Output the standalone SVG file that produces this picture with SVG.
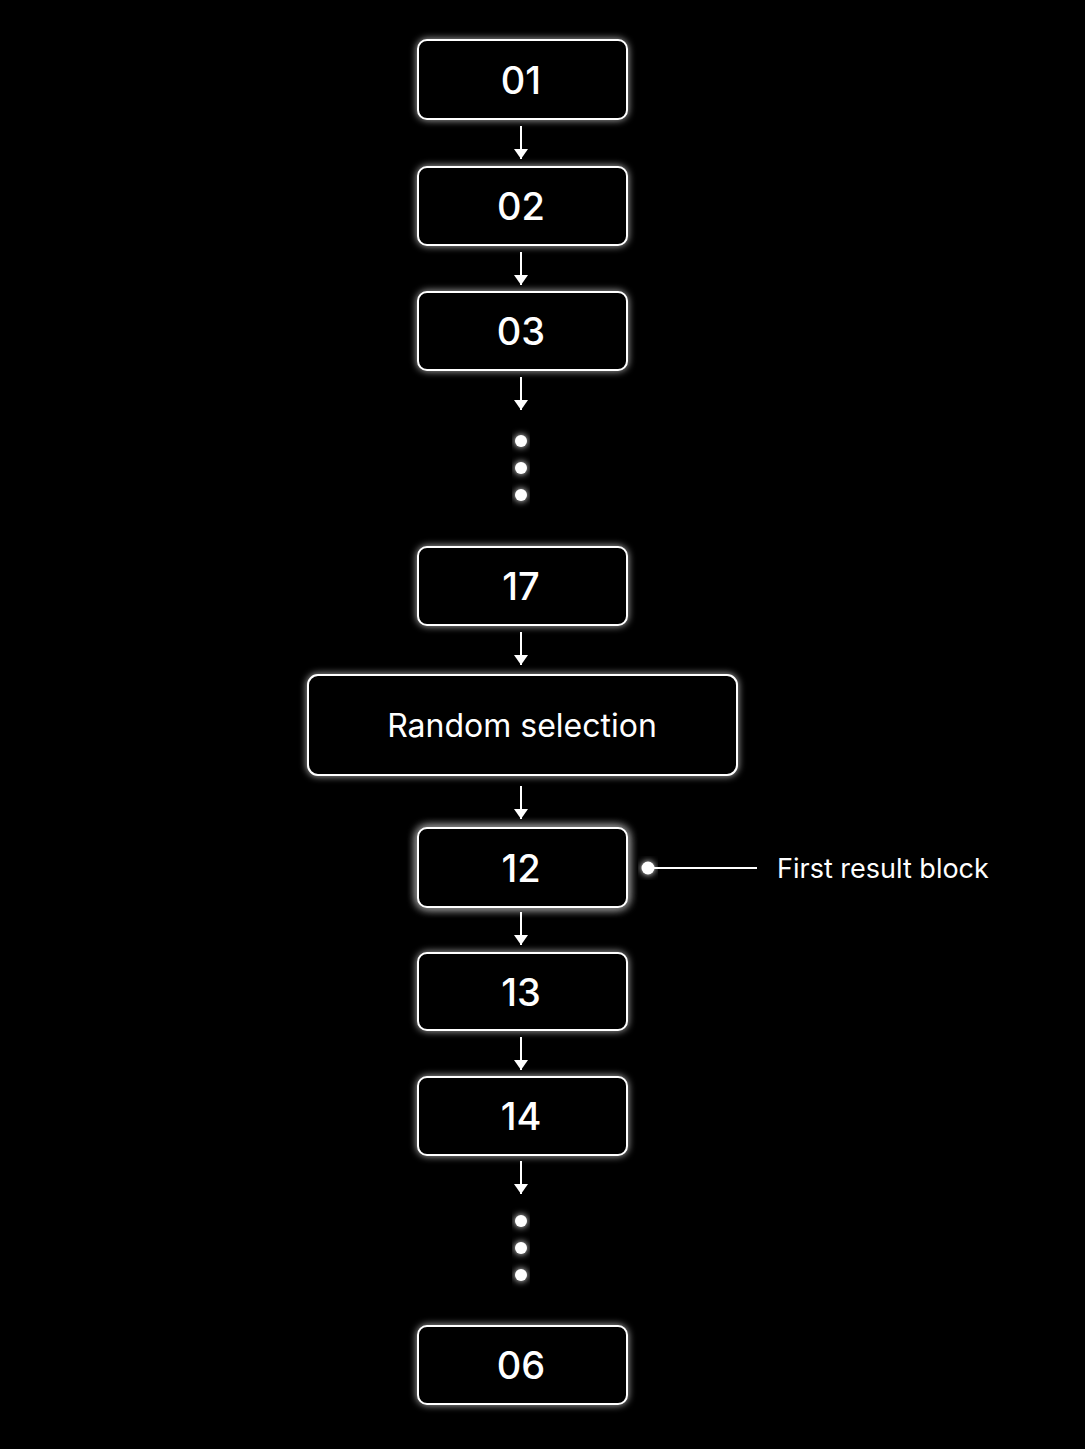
<svg xmlns="http://www.w3.org/2000/svg" width="1085" height="1449" viewBox="0 0 1085 1449">
<defs>
<filter id="glow" x="-20%" y="-40%" width="140%" height="180%">
<feGaussianBlur in="SourceGraphic" stdDeviation="3.5" result="b"/>
<feMerge><feMergeNode in="b"/><feMergeNode in="SourceGraphic"/></feMerge>
</filter>
<filter id="glow2" x="-30%" y="-50%" width="160%" height="200%">
<feGaussianBlur in="SourceGraphic" stdDeviation="5" result="b"/>
<feMerge><feMergeNode in="b"/><feMergeNode in="b"/><feMergeNode in="SourceGraphic"/></feMerge>
</filter>
<marker id="ah" viewBox="0 0 10 14" refX="10" refY="7" markerWidth="10" markerHeight="14" markerUnits="userSpaceOnUse" orient="auto">
<path d="M0,0 L10,7 L0,14 Z" fill="#fff"/>
</marker>
<style>
.box{fill:#000;stroke:#fff;stroke-width:2;filter:url(#glow)}
.hl{filter:url(#glow2)}
.num{fill:#fff;font-family:Inter,"Liberation Sans",sans-serif;font-size:38px;font-weight:500;text-anchor:middle}
.lbl{fill:#fff;font-family:Inter,"Liberation Sans",sans-serif;font-size:32px;font-weight:400;text-anchor:middle}
.side{fill:#fff;font-family:Inter,"Liberation Sans",sans-serif;font-size:27px;font-weight:400}
.conn line{stroke:#fff;stroke-width:2}
.dot{fill:#fff}
</style>
</defs>
<rect width="1085" height="1449" fill="#000"/>
<g id="n01"><rect class="box" x="418" y="40" width="209" height="79" rx="9"/><text class="num" x="521" y="94">01</text></g>
<g id="n02"><rect class="box" x="418" y="167" width="209" height="78" rx="9"/><text class="num" x="521" y="220">02</text></g>
<g id="n03"><rect class="box" x="418" y="292" width="209" height="78" rx="9"/><text class="num" x="521" y="345">03</text></g>
<g id="n17"><rect class="box" x="418" y="547" width="209" height="78" rx="9"/><text class="num" x="521" y="600">17</text></g>
<g id="nrand"><rect class="box" x="308" y="675" width="429" height="100" rx="10"/><text class="lbl" x="522" y="737">Random selection</text></g>
<g id="n12"><rect class="box hl" x="418" y="828" width="209" height="79" rx="9"/><text class="num" x="521" y="882">12</text></g>
<g id="n13"><rect class="box" x="418" y="953" width="209" height="77" rx="9"/><text class="num" x="521" y="1006">13</text></g>
<g id="n14"><rect class="box" x="418" y="1077" width="209" height="78" rx="9"/><text class="num" x="521" y="1130">14</text></g>
<g id="n06"><rect class="box" x="418" y="1326" width="209" height="78" rx="9"/><text class="num" x="521" y="1379">06</text></g>
<g id="ellipsis1" filter="url(#glow)"><circle class="dot" cx="521" cy="441" r="6"/><circle class="dot" cx="521" cy="468" r="6"/><circle class="dot" cx="521" cy="495" r="6"/></g>
<g id="ellipsis2" filter="url(#glow)"><circle class="dot" cx="521" cy="1221" r="6"/><circle class="dot" cx="521" cy="1248" r="6"/><circle class="dot" cx="521" cy="1275" r="6"/></g>
<g id="callout"><circle class="dot" cx="648" cy="868" r="6.5" filter="url(#glow)"/><line x1="648" y1="868" x2="757" y2="868" stroke="#fff" stroke-width="2"/><text class="side" x="777" y="878">First result block</text></g>
<g class="conn" id="connectors">
<line x1="521" y1="126" x2="521" y2="159" marker-end="url(#ah)"/>
<line x1="521" y1="252" x2="521" y2="285" marker-end="url(#ah)"/>
<line x1="521" y1="377" x2="521" y2="410" marker-end="url(#ah)"/>
<line x1="521" y1="632" x2="521" y2="665" marker-end="url(#ah)"/>
<line x1="521" y1="786" x2="521" y2="819" marker-end="url(#ah)"/>
<line x1="521" y1="912" x2="521" y2="945" marker-end="url(#ah)"/>
<line x1="521" y1="1037" x2="521" y2="1070" marker-end="url(#ah)"/>
<line x1="521" y1="1161" x2="521" y2="1194" marker-end="url(#ah)"/>
</g>
</svg>
